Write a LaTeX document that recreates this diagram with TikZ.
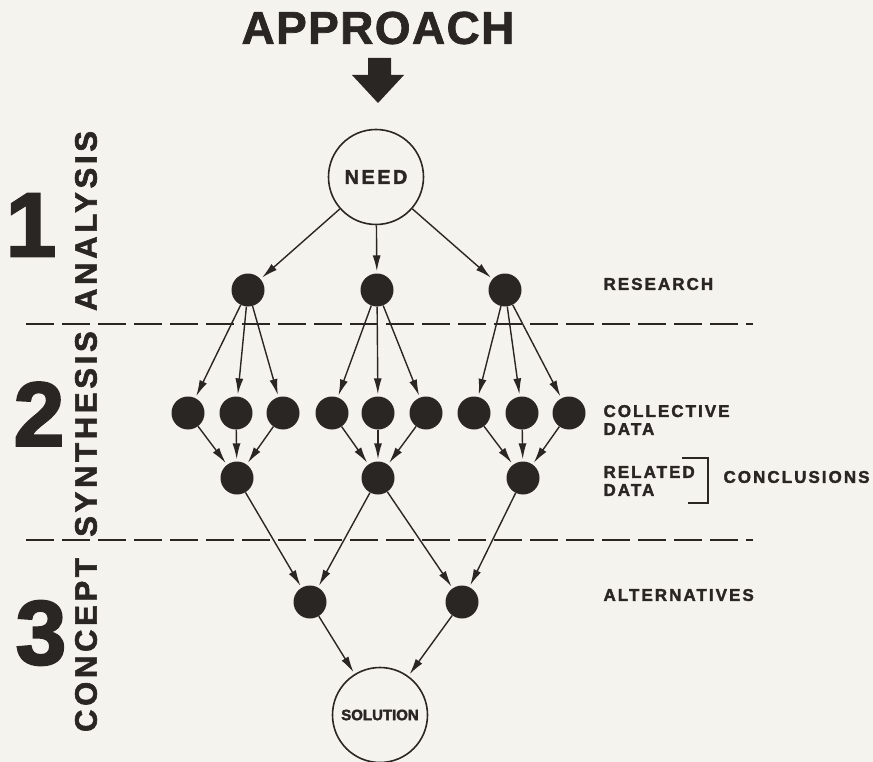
\documentclass[tikz,border=0pt]{standalone}
\usepackage{fontspec}
\setmainfont{Liberation Sans}
\newfontfamily\spaced{Liberation Sans Bold}[LetterSpace=12,FakeBold=2]
\newfontfamily\heavy{Liberation Sans Bold}[FakeBold=2.5]
\newfontfamily\titlefont{Liberation Sans Bold}[LetterSpace=3,FakeBold=1.5]
\usetikzlibrary{arrows.meta}
\definecolor{paper}{RGB}{244,243,238}
\definecolor{ink}{RGB}{42,38,36}

\begin{document}
\begin{tikzpicture}[x=1pt,y=-1pt,>={Latex[length=16pt,width=8pt]},
	dot/.style={circle,fill=ink,minimum size=33pt,inner sep=0pt},
	ring/.style={circle,draw=ink,line width=1.6pt,minimum size=95pt,inner sep=0pt,text=ink},
	rowtext/.style={font=\spaced\fontsize{17}{18}\selectfont,text=ink,anchor=west,align=left},
	stage/.style={font=\spaced\fontsize{31}{31}\selectfont,text=ink,rotate=90},
	digit/.style={font=\heavy\fontsize{91}{91}\selectfont,text=ink},
	link/.style={->,draw=ink,line width=1.4pt,shorten >=2pt}]

\fill[paper] (0,0) rectangle (873,762);
\useasboundingbox (0,0) rectangle (873,762);

% heading
\node[font=\titlefont\fontsize{46}{46}\selectfont,text=ink] (approach) at (378,28) {APPROACH};
\fill[ink] (368,58) -- (391,58) -- (391,75) -- (404,75) -- (378,103) -- (352,75) -- (368,75) -- cycle;

\node[ring,font=\spaced\fontsize{20}{20}\selectfont] (need) at (376,177) {NEED};
\node[ring,font=\heavy\fontsize{15}{15}\selectfont] (solution) at (380,715) {SOLUTION};

% research
\node[dot] (r1) at (248,290) {};
\node[dot] (r2) at (377,290) {};
\node[dot] (r3) at (505,290) {};

% collective data
\foreach \x [count=\i] in {188,236,283,332,378,426,474,522,569}
	\node[dot] (c\i) at (\x,413) {};

% related data
\node[dot] (d1) at (237,478) {};
\node[dot] (d2) at (378,478) {};
\node[dot] (d3) at (523,478) {};

% alternatives
\node[dot] (a1) at (310,602) {};
\node[dot] (a2) at (462,602) {};

% arrows
\foreach \j in {1,2,3}
	\draw[link] (need) -- (r\j);
\foreach \i/\j in {1/1,1/2,1/3,2/4,2/5,2/6,3/7,3/8,3/9}
	\draw[link] (r\i) -- (c\j);
\foreach \i/\j in {1/1,2/1,3/1,4/2,5/2,6/2,7/3,8/3,9/3}
	\draw[link] (c\i) -- (d\j);
\foreach \i/\j in {1/1,2/1,2/2,3/2}
	\draw[link] (d\i) -- (a\j);
\draw[link] (a1) -- (solution);
\draw[link] (a2) -- (solution);

% phase lines
\draw[ink,line width=2pt,dash pattern=on 28pt off 8pt] (26,324) -- (753,324);
\draw[ink,line width=2pt,dash pattern=on 28pt off 8pt] (26,540) -- (753,540);

% phases
\node[digit] (one) at (31,225) {1};
\node[digit] (two) at (39,414) {2};
\node[digit] (three) at (41,633) {3};
\node[stage] (analysis) at (86,221) {ANALYSIS};
\node[stage] (synthesis) at (86,434) {SYNTHESIS};
\node[stage] (concept) at (86,645) {CONCEPT};

% row labels
\node[rowtext] (research) at (600,284) {RESEARCH};
\node[rowtext] (collective) at (600,420) {COLLECTIVE\\DATA};
\node[rowtext] (related) at (600,481) {RELATED\\DATA};
\draw[ink,line width=1.6pt] (682,458) -- (708,458) -- (708,503) -- (688,503);
\node[rowtext] (conclusions) at (720,477) {CONCLUSIONS};
\node[rowtext] (alternatives) at (600,595) {ALTERNATIVES};
\end{tikzpicture}
\end{document}
